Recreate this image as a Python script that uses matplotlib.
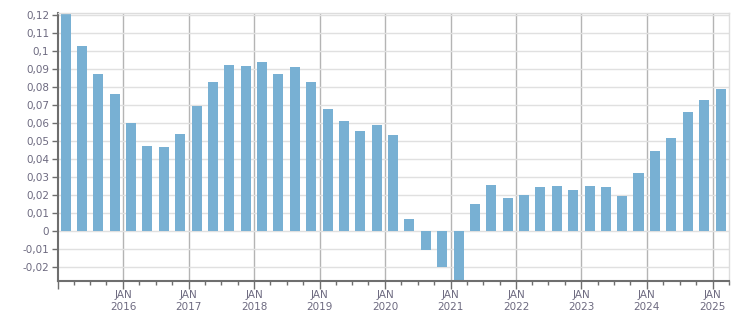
import numpy as np
import pandas as pd
import matplotlib
matplotlib.use("Agg")
import matplotlib.pyplot as plt
import matplotlib.dates as mdates
from matplotlib.ticker import FixedLocator, FuncFormatter

# --- data: quarterly values, Q1 2015 .. Q1 2025 ---
values = [
    0.1205, 0.1030, 0.0874, 0.0763,   # 2015
    0.0602, 0.0474, 0.0468, 0.0541,   # 2016
    0.0696, 0.0829, 0.0924, 0.0918,   # 2017
    0.0941, 0.0874, 0.0913, 0.0829,   # 2018
    0.0679, 0.0613, 0.0557, 0.0591,   # 2019
    0.0535, 0.0068, -0.0102, -0.0198, # 2020
    -0.0300, 0.0152, 0.0257, 0.0185,  # 2021
    0.0202, 0.0246, 0.0252, 0.0229,   # 2022
    0.0252, 0.0246, 0.0196, 0.0324,   # 2023
    0.0446, 0.0518, 0.0663, 0.0729,   # 2024
    0.0791,                           # 2025
]
quarter_starts = pd.date_range("2015-01-01", periods=len(values), freq="QS")
years = list(range(2016, 2026))
y_ticks = [-0.02, -0.01, 0, 0.01, 0.02, 0.03, 0.04, 0.05, 0.06,
           0.07, 0.08, 0.09, 0.1, 0.11, 0.12]

bar_color = "#78b0d3"
label_color = "#6d6a80"

fig = plt.figure(figsize=(7.51, 3.13), dpi=100)
ax = fig.add_axes([0.0766, 0.103, 0.8937, 0.8555])

centers = quarter_starts + pd.Timedelta(days=45)
ax.bar(centers, values, width=56, color=bar_color, zorder=2)

ax.set_xlim(pd.Timestamp("2015-01-01"), pd.Timestamp("2025-04-01"))
ax.set_ylim(-0.02744, 0.1213)

# y axis
ax.yaxis.set_major_locator(FixedLocator(y_ticks))
ax.yaxis.set_major_formatter(FuncFormatter(
    lambda v, p: "0" if abs(v) < 1e-9 else ("%g" % round(v, 2)).replace(".", ",")))
ax.grid(axis="y", color="#e0e0e0", linewidth=1, zorder=0)

# x axis: JAN ticks, quarterly minor ticks
ax.xaxis.set_major_locator(mdates.YearLocator())
ax.xaxis.set_minor_locator(mdates.MonthLocator(bymonth=[4, 7, 10]))
ax.xaxis.set_major_formatter(FuncFormatter(
    lambda v, p: "" if mdates.num2date(v).year < 2016 else "JAN\n%d" % mdates.num2date(v).year))
for yr in years:
    ax.axvline(pd.Timestamp(f"{yr}-01-01"), color="#b4b4b4", linewidth=1, zorder=1)

ax.tick_params(axis="y", length=4, width=1, color="#6e6e6e", labelsize=7.5,
               labelcolor=label_color, pad=2)
ax.tick_params(axis="x", which="major", length=6, width=1, color="#6e6e6e",
               labelsize=7.5, labelcolor=label_color, pad=1)
ax.tick_params(axis="x", which="minor", length=3, width=1, color="#6e6e6e")

for s in ["left", "bottom"]:
    ax.spines[s].set_color("#6e6e6e")
    ax.spines[s].set_linewidth(1.5)
for s in ["top", "right"]:
    ax.spines[s].set_color("#dddddd")
    ax.spines[s].set_linewidth(1)

fig.savefig("out.png", dpi=100)
